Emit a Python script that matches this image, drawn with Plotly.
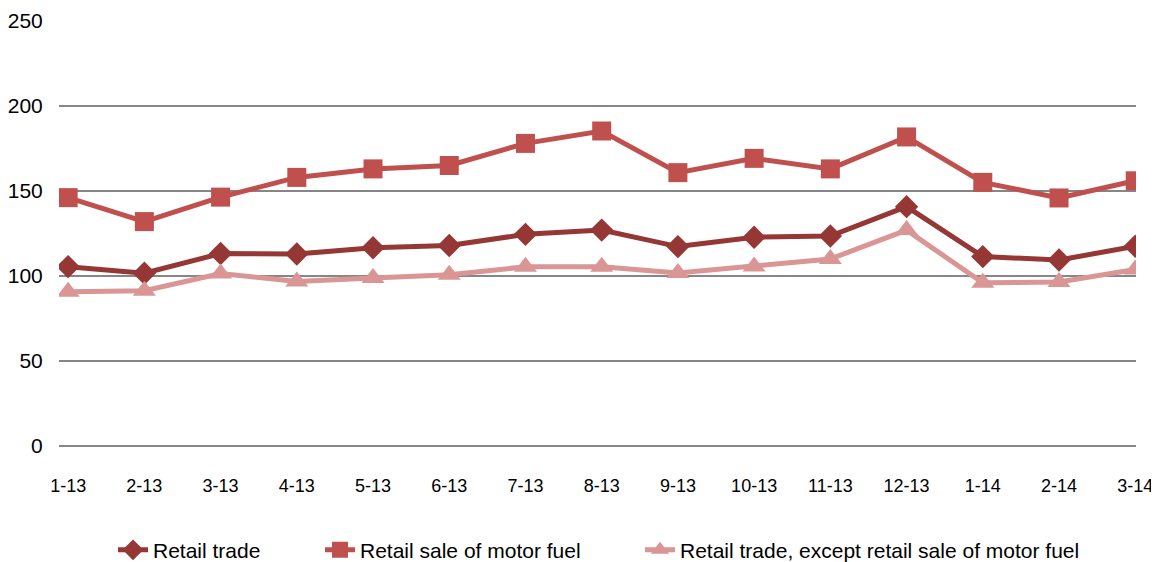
import plotly.graph_objects as go

categories = ["1-13", "2-13", "3-13", "4-13", "5-13", "6-13", "7-13", "8-13",
              "9-13", "10-13", "11-13", "12-13", "1-14", "2-14", "3-14"]
retail_trade = [105.5, 101.6, 113.2, 112.9, 116.6, 117.9, 124.5, 127.0,
                117.3, 122.8, 123.5, 140.8, 111.4, 109.4, 117.5]
motor_fuel = [146.1, 132.0, 146.4, 158.0, 163.0, 165.0, 178.0, 185.3,
              160.8, 169.2, 163.0, 181.8, 155.1, 145.9, 156.0]
except_fuel = [90.8, 91.3, 101.5, 96.7, 98.8, 100.8, 105.4, 105.5,
               101.8, 105.6, 110.0, 127.0, 96.0, 96.5, 103.8]

series_names = ["Retail trade", "Retail sale of motor fuel",
                "Retail trade, except retail sale of motor fuel"]

# page has an 8px body margin, so the figure is offset by 8px
W, H = 1151, 554
ML, MR, MT, MB = 51, 23, 13, 116
PW = W - ML - MR


def px_to_paper_x(page_x):
    return (page_x - 8 - ML) / PW


fig = go.Figure()
fig.add_trace(go.Scatter(x=categories, y=retail_trade, name=series_names[0],
                         mode="lines+markers", legend="legend",
                         line=dict(color="#953735", width=5),
                         marker=dict(symbol="diamond", size=18, color="#953735")))
fig.add_trace(go.Scatter(x=categories, y=motor_fuel, name=series_names[1],
                         mode="lines+markers", legend="legend2",
                         line=dict(color="#C0504D", width=5),
                         marker=dict(symbol="square", size=19, color="#C0504D")))
fig.add_trace(go.Scatter(x=categories, y=except_fuel, name=series_names[2],
                         mode="lines+markers", legend="legend3",
                         line=dict(color="#D99694", width=5),
                         marker=dict(symbol="triangle-up", size=20, color="#D99694")))

font_family = "Liberation Sans, Arial"
leg_y = -0.245


def leg(page_x):
    return dict(orientation="h", x=px_to_paper_x(page_x), xanchor="left",
                y=leg_y, yanchor="middle", font=dict(size=21),
                bgcolor="rgba(0,0,0,0)")


fig.update_layout(
    width=W, height=H,
    margin=dict(l=ML, r=MR, t=MT, b=MB, autoexpand=False),
    paper_bgcolor="white", plot_bgcolor="white",
    font=dict(family=font_family, size=18, color="black"),
    showlegend=True,
    legend=leg(113),
    legend2=leg(320),
    legend3=leg(640),
    xaxis=dict(type="category", range=[-0.12, 14.01], showgrid=False,
               showline=False, zeroline=False, ticks="outside", ticklen=23,
               tickcolor="rgba(0,0,0,0)", tickfont=dict(size=18), automargin=False),
    yaxis=dict(range=[0, 250], tickvals=[0, 50, 100, 150, 200, 250],
               showgrid=True, gridcolor="#868686", gridwidth=1.5,
               zeroline=True, zerolinecolor="#868686", zerolinewidth=1.5,
               showline=False, ticks="outside", ticklen=11,
               tickcolor="rgba(0,0,0,0)", tickfont=dict(size=21), automargin=False),
)

fig.write_html("out.html")
